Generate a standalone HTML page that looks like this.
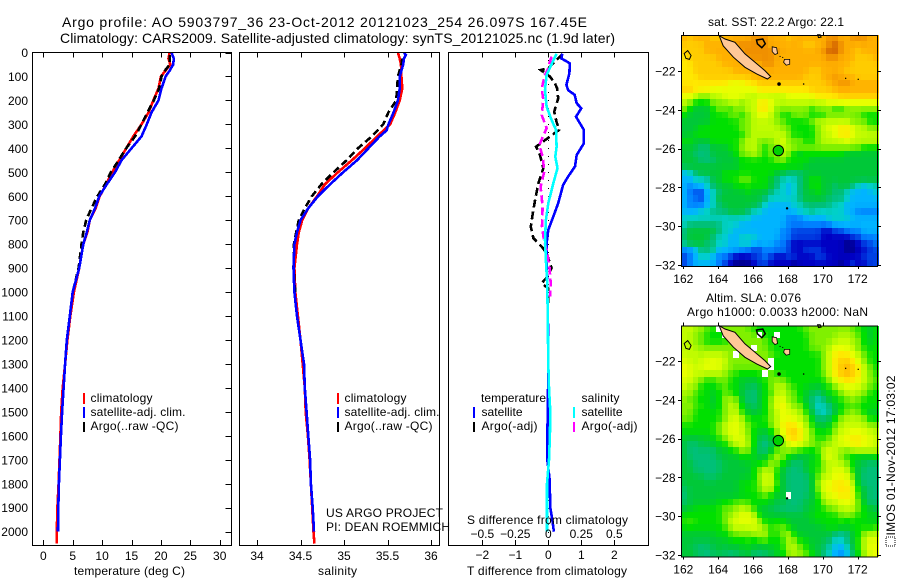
<!DOCTYPE html>
<html>
<head>
<meta charset="utf-8">
<title>Argo profile</title>
<style>
html,body{margin:0;padding:0;background:#fff;}
svg{display:block;}
text{font-family:"Liberation Sans",sans-serif;font-size:12px;fill:#000;}
.t{font-size:14px;}
</style>
</head>
<body>
<svg id="fig" xmlns="http://www.w3.org/2000/svg" width="900" height="580" viewBox="0 0 900 580">
<rect x="0" y="0" width="900" height="580" fill="#fff"/>
<text class="t" x="62" y="27" textLength="525" lengthAdjust="spacing">Argo profile: AO 5903797_36 23-Oct-2012 20121023_254 26.097S 167.45E</text>
<text class="t" x="60" y="43" textLength="555" lengthAdjust="spacing">Climatology: CARS2009. Satellite-adjusted climatology: synTS_20121025.nc (1.9d later)</text>

<g id="plots"></g>
<g id="maps"></g>

<text x="74" y="575" textLength="111">temperature (deg C)</text>
<text x="318" y="575" textLength="39">salinity</text>
<text x="467" y="575" textLength="160">T difference from climatology</text>
<text x="467" y="524" textLength="161">S difference from climatology</text>

<g>
<rect x="83" y="393" width="2" height="11" fill="#f00"/>
<text x="90.5" y="402" textLength="62">climatology</text>
<rect x="83" y="407" width="2" height="11" fill="#00f"/>
<text x="90.5" y="416" textLength="95">satellite-adj. clim.</text>
<rect x="83" y="422" width="2" height="10" fill="#000"/>
<text x="90.5" y="430" textLength="88">Argo(..raw -QC)</text>
</g>
<g>
<rect x="337" y="393" width="2" height="11" fill="#f00"/>
<text x="344.5" y="402" textLength="62">climatology</text>
<rect x="337" y="407" width="2" height="11" fill="#00f"/>
<text x="344.5" y="416" textLength="95">satellite-adj. clim.</text>
<rect x="337" y="422" width="2" height="10" fill="#000"/>
<text x="344.5" y="430" textLength="88">Argo(..raw -QC)</text>
</g>
<text x="326" y="517" textLength="117">US ARGO PROJECT</text>
<text x="326" y="531" textLength="124">PI: DEAN ROEMMICH</text>
<g>
<text x="481" y="402" textLength="65">temperature</text>
<text x="581.5" y="402" textLength="38">salinity</text>
<rect x="473" y="407" width="2" height="11" fill="#00f"/>
<text x="481.5" y="416" textLength="41">satellite</text>
<rect x="473" y="422" width="2" height="10" fill="#000"/>
<text x="481.5" y="430" textLength="56">Argo(-adj)</text>
<rect x="573" y="407" width="2" height="11" fill="#0ff"/>
<text x="581.5" y="416" textLength="41">satellite</text>
<rect x="573" y="422" width="2" height="10" fill="#f0f"/>
<text x="581.5" y="430" textLength="56">Argo(-adj)</text>
</g>

<text x="708" y="26" textLength="136">sat. SST: 22.2 Argo: 22.1</text>
<text x="706" y="302" textLength="95">Altim. SLA: 0.076</text>
<text x="687" y="316" textLength="181">Argo h1000: 0.0033 h2000: NaN</text>
<rect x="886" y="537" width="9" height="9" fill="none" stroke="#000" stroke-width="1" stroke-dasharray="1,1" shape-rendering="crispEdges"/>
<text transform="translate(895,535.5) rotate(-90)" x="0" y="0" textLength="160">IMOS 01-Nov-2012 17:03:02</text>
</svg>

<script>
// ---------- profile data ----------
var depthTicks = [0,100,200,300,400,500,600,700,800,900,1000,1100,1200,1300,1400,1500,1600,1700,1800,1900,2000];
var tempTicks = [0,5,10,15,20,25,30];
var salTicks = [34,34.5,35,35.5,36];
var salTickLabels = ['34','34.5','35','35.5','36'];
var tDiffTicks = [-2,-1,0,1,2];
var sDiffTicks = [-0.5,-0.25,0,0.25,0.5];
var sDiffTickLabels = ['\u22120.5','\u22120.25','0','0.25','0.5'];

var tempClimDepth = [0,25,50,75,100,150,200,250,300,350,400,450,500,550,600,650,700,750,800,900,1000,1100,1200,1300,1400,1500,1600,1700,1800,1900,2000,2050];
var tempClim = [21.5,21.3,21.6,20.8,20,19.6,18.7,17.9,16.7,15.3,14.1,12.9,11.7,10.7,9.6,8.9,7.9,7.5,6.8,6.1,5.2,4.6,4.1,3.7,3.3,3.05,2.9,2.75,2.6,2.4,2.3,2.3];
var tempSatDepth = [0,25,50,75,100,150,200,250,300,350,400,450,500,550,600,650,700,750,800,900,1000,1100,1200,1300,1400,1500,1600,1700,1800,1900,2000];
var tempSat = [21.8,22.2,22.1,21.5,20.8,20.1,19.6,18.4,17.6,16.7,15,13.3,12.2,10.8,9.5,8.8,7.9,7.4,6.8,6.1,5,4.5,4,3.7,3.46,3.2,3,2.83,2.66,2.55,2.5];
var tempArgoDepth = [10,50,75,100,150,200,250,300,350,400,450,500,550,600,650,700,750,800,900,1000];
var tempArgo = [21.5,21.5,20.7,20.1,19.7,18.8,17.7,16.7,15.6,14.1,12.8,11.5,10.5,9.2,8.2,7.3,6.8,6.5,6,5];

var salClimDepth = [0,25,50,100,150,200,250,300,350,400,450,500,550,600,650,700,750,800,900,1000,1100,1200,1300,1400,1500,1600,1700,1800,1900,2000,2050];
var salClim = [35.62,35.64,35.655,35.66,35.67,35.64,35.59,35.53,35.38,35.24,35.09,34.93,34.78,34.69,34.59,34.52,34.48,34.46,34.43,34.44,34.47,34.5,34.525,34.55,34.56,34.585,34.605,34.62,34.635,34.65,34.66];
var salSatDepth = [0,10,25,50,100,150,200,250,300,325,350,400,450,500,550,600,650,700,750,800,900,1000,1100,1200,1300,1400,1500,1600,1700,1800,1900,2000];
var salSat = [35.69,35.71,35.69,35.68,35.64,35.64,35.62,35.57,35.51,35.49,35.41,35.28,35.15,34.99,34.84,34.7,34.59,34.5,34.46,34.43,34.42,34.43,34.46,34.5,34.54,34.55,34.57,34.59,34.61,34.62,34.64,34.655];
var salArgoDepth = [25,50,100,150,200,250,300,350,400,450,500,550,600,650,700,750,800,900,1000];
var salArgo = [35.67,35.66,35.62,35.61,35.6,35.51,35.45,35.32,35.16,35.03,34.88,34.74,34.63,34.55,34.48,34.45,34.425,34.42,34.44];

var dTSatDepth = [5,25,45,87,135,157,177,212,233,268,323,379,428,476,518,553,629,685,740,796,852,1000,1200,1457,1600,1700,1780,1900,1950,2000];
var dTSat = [0.42,0.4,0.65,0.64,0.55,0.6,0.8,0.86,1,0.84,1.08,1.08,0.86,0.81,0.6,0.45,0.3,0.15,0,-0.05,-0.05,-0.03,0,-0.01,-0.03,-0.03,0.04,0.06,0.12,0.17];
var dSSatDepth = [6,31,94,156,226,282,323,393,435,483,546,629,699,782,866,963,1060,1300,1400,1500,1600,1700,1800,1900,2000];
var dSSat = [0.063,0.04,-0.013,-0.025,-0.013,0.025,0.058,0.063,0.053,0.07,0.038,0,-0.018,-0.025,-0.018,-0.008,-0.005,0,0.005,0.015,0.012,0.005,-0.01,-0.01,-0.01];
var dTArgoDepth = [6,31,66,73,100,129,150,191,247,289,323,361,393,428,483,546,615,671,727,775,810,838,900,940,963,985,1060];
var dTArgo = [0.43,0.25,0,-0.23,0.05,0.2,0.27,0.3,0.18,0.25,0.33,-0.05,-0.37,-0.25,-0.15,-0.3,-0.4,-0.47,-0.53,-0.45,-0.2,-0.05,0.1,-0.05,-0.2,0,0];
var dSArgoDepth = [17,45,66,94,150,198,261,316,386,435,497,560,643,727,782,824,893,963,1018];
var dSArgo = [0.025,0.008,0,-0.025,-0.05,-0.038,-0.05,-0.013,-0.068,-0.043,-0.03,-0.058,-0.043,-0.048,-0.033,-0.013,0.008,0.018,0.013];

// ---------- map data ----------
var lonTicks = [162,164,166,168,170,172];
var latTicks = [-22,-24,-26,-28,-30,-32];
var argoLon = [167.45];
var argoLat = [-26.1];
var levelColors = ['#00008c','#0000c4','#0040e4','#0080ff','#00b4ff','#00d0c8','#00c078','#00c838','#00e000','#80f000','#c0fc00','#e8ff00','#ffe800','#ffcc00','#ffb000','#f09000','#d06000'];
var sstLevels = [
[14,13,14,14,14,13,13,14,14,14,14,14,15,15,15,14,14,14,13,14,14,14,14,14,14,15,15,14,14,15,15,15,14,14],
[13,13,13,13,14,14,14,14,14,15,15,15,15,15,15,14,14,14,14,14,14,13,13,14,14,15,16,15,14,14,14,14,14,14],
[13,13,13,13,14,14,14,14,14,14,15,15,15,15,15,15,15,14,14,14,14,14,14,14,15,16,16,15,14,14,13,14,14,14],
[12,13,13,13,13,13,14,14,14,14,14,15,15,15,15,15,14,14,14,14,14,14,14,14,14,15,15,14,14,14,13,13,13,14],
[12,12,13,13,13,13,13,14,14,14,14,14,14,14,15,15,14,14,14,14,14,14,14,14,14,14,14,14,14,13,13,13,13,13],
[12,12,13,13,13,13,13,13,13,14,14,14,14,14,14,14,14,14,14,14,14,14,13,13,14,14,14,14,13,13,13,13,13,13],
[12,12,12,13,13,13,13,13,13,13,13,13,14,14,14,14,14,14,14,14,14,13,13,13,14,14,15,14,14,14,13,13,13,13],
[12,12,12,12,12,12,12,12,11,11,11,12,12,13,13,13,13,13,13,13,13,13,13,13,13,14,14,15,15,14,14,14,14,14],
[13,13,12,12,12,11,11,11,11,11,11,11,11,12,12,12,12,12,12,12,12,12,13,13,13,13,14,14,14,14,14,14,14,14],
[11,11,10,9,9,10,10,11,11,11,11,10,10,10,10,10,10,10,11,11,11,11,11,12,12,12,12,13,13,13,13,13,13,13],
[10,9,8,8,8,9,9,9,10,10,9,10,10,12,12,11,10,10,10,10,10,10,10,10,10,11,11,11,11,11,11,11,11,11],
[9,8,7,7,7,8,9,9,8,9,9,10,10,12,12,11,9,9,9,9,9,9,8,9,9,9,8,8,9,9,9,9,9,9],
[8,7,7,7,7,8,8,8,9,9,8,9,10,11,11,10,9,8,8,9,9,9,8,8,8,9,9,9,9,9,9,8,8,8],
[7,7,7,7,7,8,8,8,8,8,9,9,10,10,10,10,9,9,8,8,8,8,9,10,10,10,10,10,10,9,9,9,8,8],
[7,7,7,8,8,8,8,8,8,8,9,9,10,10,10,10,10,9,9,8,8,8,8,9,10,11,11,12,12,11,10,10,9,9],
[7,7,8,8,8,8,8,8,8,8,8,9,10,10,10,10,10,10,9,8,8,8,8,9,10,10,11,12,12,11,10,10,10,10],
[8,8,7,7,7,8,8,8,8,8,9,10,10,9,9,9,10,11,9,9,9,8,8,9,10,10,10,10,11,10,10,10,10,10],
[7,7,7,6,6,7,7,7,8,8,9,10,10,9,8,9,9,10,10,9,9,9,9,9,9,9,9,9,9,9,9,8,8,8],
[7,7,6,6,6,7,7,7,7,8,9,9,10,9,8,9,9,10,9,8,7,8,8,8,8,8,8,8,7,7,7,7,7,7],
[7,7,7,6,6,6,7,7,7,7,8,8,8,8,8,8,9,9,8,8,8,8,7,7,7,7,7,7,7,7,7,7,7,7],
[7,7,7,7,7,7,7,7,7,7,8,8,8,8,8,8,8,8,8,8,8,7,7,7,7,7,7,7,7,7,7,7,7,7],
[4,5,6,7,7,7,7,8,8,8,8,8,8,8,8,8,7,7,6,6,6,7,7,7,7,7,7,7,7,7,7,7,7,7],
[4,4,5,5,5,7,7,8,8,8,9,9,8,8,8,7,6,5,5,5,6,7,8,8,7,7,7,7,7,7,7,7,7,7],
[4,3,4,4,5,6,7,7,7,8,8,8,8,8,8,7,6,5,4,5,6,7,8,8,7,7,6,7,7,6,5,4,5,5],
[4,3,2,2,4,5,6,7,7,7,7,8,7,7,7,6,5,5,4,5,6,7,7,8,7,7,6,6,5,4,4,4,4,5],
[4,3,3,2,4,5,7,7,7,7,7,7,7,7,6,5,5,5,5,5,6,7,7,7,7,6,6,6,5,4,4,4,4,4],
[4,3,3,3,4,5,6,7,7,7,7,7,7,6,5,4,4,4,4,5,5,6,6,6,6,6,5,5,4,4,4,4,4,4],
[4,4,4,5,5,6,6,6,7,7,7,6,5,5,4,4,4,4,4,4,5,5,6,5,5,5,5,5,4,4,3,3,3,3],
[5,5,5,5,5,5,5,5,5,5,5,5,4,4,4,4,4,4,3,3,3,4,4,4,4,5,5,5,5,4,4,4,4,4],
[5,6,6,6,6,6,6,5,5,5,4,4,4,4,4,4,4,4,3,3,3,3,3,3,3,3,4,4,4,4,4,4,4,4],
[6,7,7,7,7,7,6,5,5,4,4,4,4,4,4,4,4,3,3,2,2,2,2,2,1,1,2,2,3,3,3,4,4,4],
[6,7,7,7,7,6,5,5,4,4,5,5,5,4,4,4,4,3,3,2,2,2,2,2,1,1,1,1,1,2,2,3,3,3],
[6,7,7,7,6,6,5,5,4,4,5,5,4,4,4,4,3,3,2,1,1,1,1,1,1,1,1,1,0,0,1,2,2,3],
[3,3,4,6,6,6,4,4,4,4,3,3,2,2,3,3,3,3,2,1,1,2,2,2,1,1,1,1,0,0,1,1,2,2],
[2,3,4,5,5,4,3,3,2,1,1,1,2,2,3,2,1,1,2,2,1,1,1,2,2,1,1,1,1,1,1,2,2,2],
[2,3,4,4,4,4,3,2,1,0,0,0,1,2,2,1,1,1,1,0,1,1,1,1,1,1,1,0,1,2,1,1,2,2]
];
var slaLevels = [
[10,10,10,9,9,8,-1,9,9,9,9,9,8,8,8,8,8,8,8,8,8,9,9,9,9,9,9,9,9,9,8,8,7,8],
[10,10,9,9,8,8,8,-1,9,9,9,9,9,-1,8,8,-1,8,8,8,8,8,9,9,9,9,9,10,10,9,9,8,7,8],
[10,10,9,9,8,8,8,8,9,9,9,9,9,9,9,8,8,8,8,8,8,8,9,9,9,9,10,10,10,10,9,8,7,8],
[10,10,10,9,9,9,9,9,9,9,9,9,-1,9,9,8,8,8,8,8,8,8,9,9,9,10,11,11,11,10,9,8,8,8],
[10,10,10,10,10,10,10,10,9,-1,9,9,9,9,9,9,8,8,8,8,8,8,8,8,9,10,12,12,12,11,10,9,8,8],
[11,10,10,10,11,11,11,10,9,9,9,9,9,9,9,-1,8,8,8,8,8,8,8,8,9,10,12,13,13,12,11,9,8,8],
[11,11,10,11,11,11,11,10,9,9,9,9,9,9,9,-1,8,8,8,8,8,8,8,8,9,10,12,13,14,13,12,10,9,8],
[11,11,10,10,10,10,10,9,9,8,8,8,8,8,-1,9,8,8,8,8,8,8,8,8,9,10,12,13,14,13,12,10,9,8],
[11,10,10,9,8,8,9,9,8,8,7,7,7,8,8,9,9,9,8,8,8,8,8,8,8,9,11,12,12,12,12,10,9,9],
[10,10,9,8,8,8,8,9,8,8,7,7,6,7,8,9,10,10,9,8,8,8,7,7,8,8,9,10,11,11,10,10,9,8],
[10,9,9,8,8,7,8,9,8,8,7,6,6,7,8,8,10,10,9,9,8,7,7,6,7,8,8,9,10,10,10,9,8,8],
[9,9,8,8,8,7,8,9,10,9,7,6,6,7,8,9,11,11,9,9,8,7,6,5,6,7,8,8,9,9,9,8,8,8],
[9,9,9,8,8,7,8,9,10,10,8,7,6,7,8,9,11,12,10,9,9,8,6,5,5,6,7,8,8,9,8,8,8,8],
[9,9,8,8,8,8,8,9,10,10,8,7,7,7,8,9,10,11,11,10,10,8,7,5,5,5,7,8,9,9,9,8,7,7],
[9,9,8,8,8,8,8,9,10,11,10,8,8,8,8,9,10,11,11,11,10,9,8,6,6,7,8,9,10,10,10,9,8,8],
[8,8,8,8,8,8,9,10,11,11,10,9,8,8,8,9,10,12,12,12,11,10,8,7,7,7,9,10,10,10,10,10,9,9],
[8,8,8,8,8,8,9,10,11,11,10,9,8,7,7,8,9,11,13,13,12,10,9,8,8,8,9,10,11,11,11,11,10,10],
[7,7,7,7,7,8,8,9,10,11,11,9,8,7,6,7,9,10,12,13,12,10,9,8,8,9,10,11,11,12,12,11,11,10],
[7,6,6,7,7,7,8,8,9,10,11,10,8,6,6,6,8,9,11,11,11,10,9,9,9,9,10,11,11,12,12,11,11,10],
[7,6,6,6,6,6,7,7,8,8,9,9,8,6,6,7,9,9,9,9,8,8,8,8,10,11,10,9,9,9,10,10,10,10],
[7,6,6,6,6,6,7,7,7,7,8,8,7,7,7,9,10,9,8,7,7,7,7,8,10,11,10,9,8,8,7,7,7,8],
[7,7,6,6,6,6,6,7,7,7,7,7,8,8,8,9,9,8,7,6,6,7,8,8,9,10,10,10,9,8,7,7,6,6],
[7,7,6,6,6,6,6,7,7,7,7,7,8,9,10,10,8,7,6,6,6,7,8,8,9,10,11,11,10,8,7,6,6,6],
[7,7,7,7,6,6,7,7,7,7,7,7,8,9,11,10,8,7,6,6,6,6,7,9,10,10,11,11,11,9,7,6,6,6],
[7,7,7,7,7,7,7,7,7,7,8,8,8,9,10,11,8,7,6,6,6,6,7,9,11,11,12,12,12,10,7,6,6,6],
[6,7,7,7,7,7,7,7,7,7,8,8,8,9,10,10,8,7,6,6,6,6,7,9,11,11,12,12,12,11,8,7,6,6],
[6,7,7,7,7,7,7,7,7,7,7,8,8,8,9,8,7,7,-1,6,6,6,7,8,10,11,11,12,12,11,8,7,6,6],
[6,7,7,7,7,7,8,8,8,9,9,8,8,8,8,7,7,7,6,6,6,7,7,8,9,10,10,11,11,11,9,7,6,6],
[7,7,8,8,8,8,8,9,9,9,10,10,8,7,7,7,6,6,6,6,6,7,7,8,8,9,9,10,10,10,9,8,7,7],
[8,8,8,8,8,8,8,9,9,10,11,11,10,8,7,7,7,7,7,7,7,7,8,8,8,8,8,9,9,9,8,8,8,7],
[8,9,8,8,8,8,8,9,10,11,11,11,11,9,8,8,8,8,7,7,7,7,7,8,8,8,8,8,8,8,8,8,7,8],
[8,8,8,8,8,8,8,8,10,10,10,10,11,10,9,8,9,9,8,7,7,7,7,7,7,8,8,8,7,8,8,8,8,8],
[7,7,7,7,7,7,8,8,8,9,9,9,9,10,10,8,8,9,10,8,7,7,7,7,7,7,6,5,6,7,8,9,10,10],
[7,7,7,7,7,7,7,7,8,8,8,8,8,8,9,8,8,8,10,9,8,8,7,7,7,6,5,5,6,7,8,10,11,11],
[7,7,6,6,6,7,7,7,7,7,7,8,7,7,7,7,8,8,10,10,9,8,7,7,6,6,4,4,5,7,8,10,11,11],
[7,7,7,6,6,6,7,6,6,6,7,7,6,6,6,7,7,8,9,10,9,9,8,7,6,5,4,3,4,6,8,9,11,11]
];
var mainIslandLon = [164.06,164.39,164.96,165.54,166.11,166.68,167.01,166.82,166.21,165.54,164.87,164.29];
var mainIslandLat = [-20.18,-20.35,-20.52,-21.12,-21.55,-21.98,-22.29,-22.41,-22.15,-21.81,-21.29,-20.7];
var isleALon = [167.1,167.35,167.4,167.25,167.1];
var isleALat = [-20.75,-20.8,-21.1,-21.15,-21.0];
var isleBLon = [167.8,168.1,168.1,167.9,167.75];
var isleBLat = [-21.4,-21.4,-21.65,-21.7,-21.55];
var loopLon = [162.05,162.25,162.45,162.35,162.15];
var loopLat = [-21.1,-20.95,-21.2,-21.4,-21.35];
var ringLon = [166.2,166.55,166.7,166.5,166.25];
var ringLat = [-20.4,-20.35,-20.6,-20.8,-20.6];
var northLon = [169.7,169.85,169.9,169.75];
var northLat = [-20.13,-20.13,-20.25,-20.28];
var reefLon = [167.49,168.9,171.31,172.03,167.95,167.55,167.7];
var reefLat = [-22.67,-22.67,-22.38,-22.43,-29.08,-21.25,-21.3];
var reefSize = [1.8,0.8,0.7,0.7,1.2,0.6,0.6];

var NS = 'http://www.w3.org/2000/svg';
var plots = document.getElementById('plots');
var maps = document.getElementById('maps');
function mk(parent, tag, attrs){
  var el = document.createElementNS(NS, tag);
  for (var k in attrs) el.setAttribute(k, attrs[k]);
  parent.appendChild(el);
  return el;
}
// axis functions
var PT = 52.5, PB = 545;
function depthY(d){ return 52.5 + d * 0.2396; }
function tempX(t){ return 43.3 + t * 5.88; }
function salX(s){ return 257 + (s - 34) * 87; }
function dTX(t){ return 548.3 + t * 33; }
function dSX(s){ return 548.3 + s * 132; }

function seriesPath(xs, ds, xf){
  var p = '';
  for (var i = 0; i < xs.length; i++) p += (i ? 'L' : 'M') + xf(xs[i]).toFixed(1) + ' ' + depthY(ds[i]).toFixed(1);
  return p;
}
function drawLine(parent, name, xs, ds, xf, color, dash){
  var el = mk(parent, 'path', {d: seriesPath(xs, ds, xf), fill: 'none', stroke: color, 'stroke-width': 2.6, 'shape-rendering': 'crispEdges'});
  
  
  if (dash) el.setAttribute('stroke-dasharray', dash);
}
function tickLine(parent, x1, y1, x2, y2){
  var el = mk(parent, 'line', {x1: x1, y1: y1, x2: x2, y2: y2, stroke: '#000', 'stroke-width': 1, 'shape-rendering': 'crispEdges'});
  
  
}
function label(parent, x, y, str, anchor){
  var el = mk(parent, 'text', {x: x, y: y, 'text-anchor': anchor || 'middle'});
  
  
  el.textContent = str;
}
function frame(parent, name, x, y, w, h){
  var el = mk(parent, 'rect', {x: x, y: y, width: w, height: h, fill: 'none', stroke: '#000', 'stroke-width': 1, 'shape-rendering': 'crispEdges'});
  
  
}
function xTicks(parent, ticks, labels, xf, yLabel){
  for (var i = 0; i < ticks.length; i++){
    var x = Math.round(xf(ticks[i])) + 0.5;
    tickLine(parent, x, PT, x, PT + 5);
    tickLine(parent, x, PB, x, PB - 5);
    label(parent, xf(ticks[i]), yLabel, labels[i]);
  }
}

// temperature panel
drawLine(plots, 'temperature-climatology-line', tempClim, tempClimDepth, tempX, '#f00');
drawLine(plots, 'temperature-argo-line', tempArgo, tempArgoDepth, tempX, '#000', '7 4');
drawLine(plots, 'temperature-satellite-line', tempSat, tempSatDepth, tempX, '#00f');
frame(plots, 'temperature-panel-frame', 32.5, 52.5, 199, 493);
xTicks(plots, tempTicks, tempTicks.map(String), tempX, 560);
for (var i = 0; i < depthTicks.length; i++){
  var yy = Math.round(depthY(depthTicks[i])) + 0.5;
  tickLine(plots, 231, yy, 225.5, yy);
  label(plots, 28, depthY(depthTicks[i]) + 4.5, String(depthTicks[i]), 'end');
}

// salinity panel
drawLine(plots, 'salinity-climatology-line', salClim, salClimDepth, salX, '#f00');
drawLine(plots, 'salinity-argo-line', salArgo, salArgoDepth, salX, '#000', '7 4');
drawLine(plots, 'salinity-satellite-line', salSat, salSatDepth, salX, '#00f');
frame(plots, 'salinity-panel-frame', 239.5, 52.5, 200, 493);
xTicks(plots, salTicks, salTickLabels, salX, 560);

// difference panel
var zero = mk(plots, 'line', {x1: 548.5, y1: 52, x2: 548.5, y2: 545, stroke: '#000', 'stroke-width': 1, 'stroke-dasharray': '1 7', 'shape-rendering': 'crispEdges'});


drawLine(plots, 't-diff-argo-line', dTArgo, dTArgoDepth, dTX, '#000', '8 4');
drawLine(plots, 't-diff-satellite-line', dTSat, dTSatDepth, dTX, '#00f');
drawLine(plots, 's-diff-argo-line', dSArgo, dSArgoDepth, dSX, '#f0f', '8 4');
drawLine(plots, 's-diff-satellite-line', dSSat, dSSatDepth, dSX, '#0ff');
frame(plots, 'difference-panel-frame', 448.5, 52.5, 200, 493);
xTicks(plots, tDiffTicks, tDiffTicks.map(function(v){ return v < 0 ? '\u2212' + (-v) : String(v); }), dTX, 559);
for (var j = 0; j < sDiffTicks.length; j++) label(plots, dSX(sDiffTicks[j]), 538, sDiffTickLabels[j]);

// maps: shading blends each cell with its neighbours and interpolates the palette
function hexRgb(h){ return [parseInt(h.substr(1,2),16), parseInt(h.substr(3,2),16), parseInt(h.substr(5,2),16)]; }
function levelColor(v){
  var top = levelColors.length - 1;
  var t = Math.max(0, Math.min(top, v));
  var a = Math.floor(t), b = Math.min(top, a + 1), f = t - a;
  var ca = hexRgb(levelColors[a]), cb = hexRgb(levelColors[b]);
  return 'rgb(' + Math.round(ca[0]+(cb[0]-ca[0])*f) + ',' + Math.round(ca[1]+(cb[1]-ca[1])*f) + ',' + Math.round(ca[2]+(cb[2]-ca[2])*f) + ')';
}
function shadedLevel(levels, r, c, centerWeight){
  var sum = levels[r][c] * centerWeight, w = centerWeight;
  [[r-1,c],[r+1,c],[r,c-1],[r,c+1]].forEach(function(n){
    var row = levels[n[0]];
    if (row && row[n[1]] !== undefined && row[n[1]] >= 0){ sum += row[n[1]]; w += 1; }
  });
  return sum / w;
}
var mapColumns = 34, cellDeg = 1/3, lonStart = 161.87, latStart = -20.13;
function makeMap(name, levels, top, bottom, lat22, centerWeight){
  var g = mk(maps, 'g', {});
  
  
  var lx = function(lon){ return 683.3 + (lon - 162) * 17.44; };
  var ly = function(lat){ return lat22 + (-22 - lat) * 19.4; };
  var rows = levels.length;
  var rowH = (bottom - top) / rows;
  for (var r = 0; r < rows; r++){
    for (var c = 0; c < levels[r].length; c++){
      var v = levels[r][c];
      var x0 = Math.round(lx(lonStart + c * cellDeg));
      var x1 = Math.round(lx(lonStart + (c + 1) * cellDeg));
      var y0 = Math.round(top + r * rowH);
      var y1 = Math.round(top + (r + 1) * rowH);
      var cell = mk(g, 'rect', {x: x0, y: y0, width: x1 - x0, height: y1 - y0, 'shape-rendering': 'crispEdges',
        fill: v < 0 ? '#fff' : levelColor(shadedLevel(levels, r, c, centerWeight))});
      
      
    }
  }
  var poly = function(pname, lons, lats, fill, sw){
    var pts = lons.map(function(l, i){ return lx(l).toFixed(1) + ',' + ly(lats[i]).toFixed(1); }).join(' ');
    var el = mk(g, 'polygon', {points: pts, fill: fill, stroke: '#000', 'stroke-width': sw});
    
    
  };
  poly('new-caledonia-island', mainIslandLon, mainIslandLat, '#ffc896', 1);
  poly('loyalty-island-a', isleALon, isleALat, '#ffc896', 0.8);
  poly('loyalty-island-b', isleBLon, isleBLat, '#ffc896', 0.8);
  poly('belep-reef-outline', ringLon, ringLat, 'none', 1.5);
  poly('west-reef-outline', loopLon, loopLat, 'none', 1);
  poly('north-reef-outline', northLon, northLat, 'none', 1);
  for (var d = 0; d < reefLon.length; d++){
    var dot = mk(g, 'circle', {cx: lx(reefLon[d]), cy: ly(reefLat[d]), r: reefSize[d], fill: '#000'});
    
    
  }
  var ring = mk(g, 'circle', {cx: lx(argoLon[0]), cy: ly(argoLat[0]), r: 5.2, fill: '#00d000', stroke: '#000', 'stroke-width': 1});
  
  
  frame(g, name + '-frame', 681.5, top + 0.5, 196, bottom - top);
  lonTicks.forEach(function(l){
    var x = Math.round(lx(l)) + 0.5;
    tickLine(g, x, top, x, top - 3);
    tickLine(g, x, bottom, x, bottom + 3);
    label(g, lx(l), bottom + 17, String(l));
  });
  latTicks.forEach(function(l){
    var y = Math.round(ly(l)) + 0.5;
    tickLine(g, 681, y, 678, y);
    tickLine(g, 878, y, 881, y);
    label(g, 675.5, ly(l) + 4.5, '\u2212' + (-l), 'end');
  });
}
makeMap('sst-map', sstLevels, 35, 266, 71, 4);
makeMap('sla-map', slaLevels, 325.5, 556.5, 361, 2);
</script>
</body>
</html>
